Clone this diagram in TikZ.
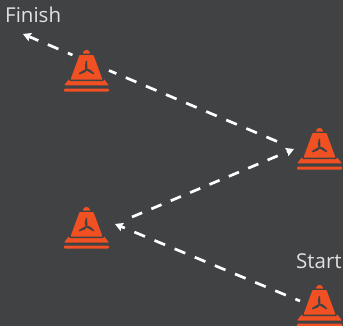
\documentclass[tikz,border=0pt]{standalone}
\usepackage{fontspec}
\setmainfont{Open Sans}
\usetikzlibrary{arrows.meta}
\definecolor{colBack}{RGB}{65,66,68}
\definecolor{colCone}{RGB}{240,80,34}
\definecolor{colText}{RGB}{225,225,225}
\tikzset{
    route/.style={draw=white, line width=2.7pt, dash pattern=on 11.5pt off 10.3pt},
    arrow/.style={route, -{Stealth[length=8pt, width=9pt, inset=1.2pt, line width=0pt, fill=white]}},
    place/.style={text=colText, font=\fontsize{20.5}{20.5}\selectfont, inner sep=0pt, anchor=base west},
    cone/.pic={
        % base with wings
        \fill[colCone, rounded corners=0.8pt] (-22.5,35.5) -- (-16.5,28) -- (16.5,28) -- (22.5,35.5) -- cycle;
        \fill[colCone, rounded corners=1pt] (-22.5,38.7) rectangle (22.5,41.7);
        % body
        \filldraw[colCone, draw=colBack, line width=1.6pt, rounded corners=1pt] (-7.6,4) -- (7.6,4) -- (16.8,29) -- (17,30.4) -- (-17,30.4) -- (-16.8,29) -- cycle;
        \fill[colCone, rounded corners=1pt] (-4.2,3.6) -- (-1.6,0) -- (1.6,0) -- (4.2,3.6) -- cycle;
        % blades
        \foreach \ang in {90,210,330} {
            \fill[colBack, shift={(0,19.5)}, rotate=\ang, yscale=-1] (0,-0.8) -- (8.5,-0.7) -- (8.5,0.7) -- (3,1.7) -- (0,0.8) -- cycle;
        }
    }
}

\begin{document}
\begin{tikzpicture}[x=1pt, y=-1pt]
    \useasboundingbox[fill=colBack] (0,0) rectangle (343,326);

    \node[place] (finish) at (5,23) {Finish};
    \node[place] (start) at (296,269) {Start};

    \coordinate (finishtip) at (23,34);
    \coordinate (coneAout) at (72.5,55);
    \coordinate (coneAin) at (109,70.5);
    \coordinate (coneBout) at (277,141.4);
    \coordinate (coneBin) at (294,149);
    \coordinate (coneCout) at (132,217);
    \coordinate (coneCin) at (115,224);
    \coordinate (coneDout) at (300,301);

    \draw[route] (coneBout) -- (coneAin);
    \draw[arrow, dash phase=6.5pt] (coneAout) -- (finishtip);
    \draw[arrow, dash pattern=on 11pt off 10pt] (coneCout) -- (coneBin);
    \draw[arrow, dash phase=6.5pt] (coneDout) -- (coneCin);

    \pic (coneA) at (86.5,50) {cone};
    \pic (coneB) at (319.5,128) {cone};
    \pic (coneC) at (86.5,207) {cone};
    \pic (coneD) at (319.5,285) {cone};
\end{tikzpicture}
\end{document}
